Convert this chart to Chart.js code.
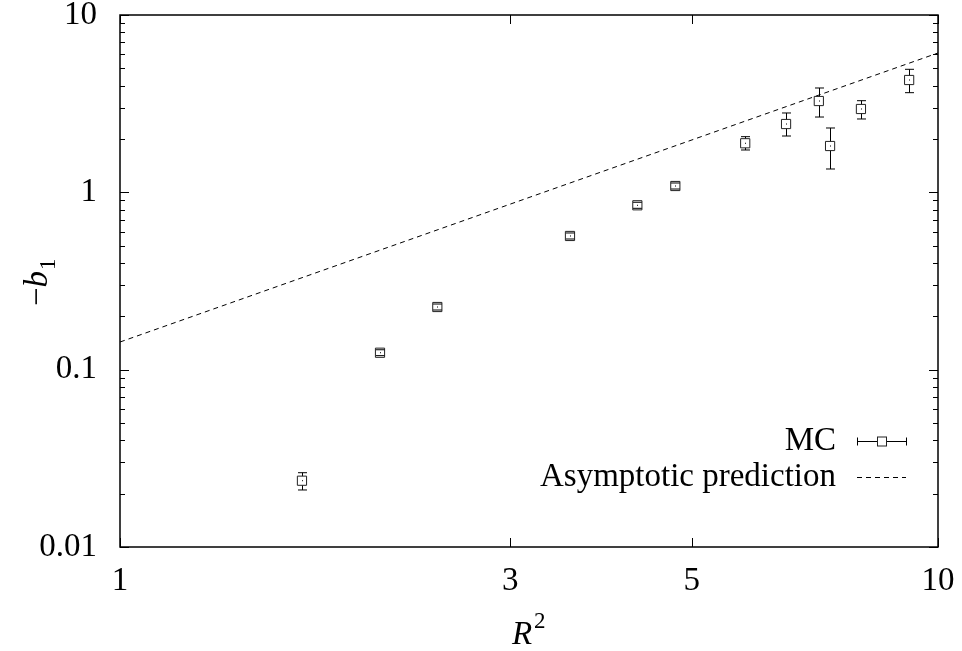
<!DOCTYPE html>
<html>
<head>
<meta charset="utf-8">
<script src="https://cdn.jsdelivr.net/npm/chart.js@4/dist/chart.umd.min.js"></script>
<style>
  html, body { margin: 0; padding: 0; background: #fff; }
</style>
</head>
<body>
<canvas id="chart" width="962" height="651"></canvas>
<script>
// MC data: R^2 vs -b1 with error bars
const rSquared = [1.669, 2.079, 2.443, 3.549, 4.290, 4.774, 5.812, 6.52, 7.15, 7.38, 8.05, 9.22];
const minusB1 = [0.02365, 0.1246, 0.2256, 0.5674, 0.8452, 1.0856, 1.891, 2.428, 3.273, 1.825, 2.951, 4.30];
const errLow = [0.02097, 0.1200, 0.2170, 0.5455, 0.8125, 1.044, 1.733, 2.078, 2.659, 1.354, 2.592, 3.647];
const errHigh = [0.02624, 0.1295, 0.2345, 0.590, 0.879, 1.129, 2.06, 2.802, 3.876, 2.306, 3.287, 4.94];

// asymptotic prediction (straight line on log-log)
const asymX = [1, 10];
const asymY = [0.1432, 6.107];

const xTicks = [1, 3, 5, 10];
const yTicks = [0.01, 0.1, 1, 10];

const FONT = 'Liberation Serif';
const FS = 33;

const framePlugin = {
    id: 'frame',
    beforeDatasetsDraw(chart) {
        const ctx = chart.ctx;
        const xs = chart.scales.x;
        const ys = chart.scales.y;
        ctx.save();
        ctx.strokeStyle = '#000';
        ctx.lineWidth = 1;

        // error bars for MC points (not drawn through the box)
        const h = 4.6;
        const cap = 4.5;
        for (let i = 0; i < rSquared.length; i++) {
            const px = Math.round(xs.getPixelForValue(rSquared[i])) + 0.5;
            const py = ys.getPixelForValue(minusB1[i]);
            const yHi = ys.getPixelForValue(errHigh[i]);
            const yLo = ys.getPixelForValue(errLow[i]);
            ctx.beginPath();
            if (yHi < py - h) { ctx.moveTo(px, yHi); ctx.lineTo(px, py - h); }
            if (yLo > py + h) { ctx.moveTo(px, py + h); ctx.lineTo(px, yLo); }
            ctx.moveTo(px - cap, yHi); ctx.lineTo(px + cap, yHi);
            ctx.moveTo(px - cap, yLo); ctx.lineTo(px + cap, yLo);
            ctx.stroke();
            ctx.fillStyle = '#000';
            ctx.fillRect(px - 0.5, py - 0.5, 1, 1);
        }
        ctx.restore();
    },
    afterDraw(chart) {
        const ctx = chart.ctx;
        const a = chart.chartArea;
        const xs = chart.scales.x;
        const ys = chart.scales.y;
        ctx.save();
        ctx.strokeStyle = '#000';
        ctx.lineWidth = 1;

        // tick marks, inside, mirrored
        ctx.beginPath();
        for (let d = 0.01; d < 10; d *= 10) {
            for (let k = 1; k <= 10; k++) {
                const y = Math.round(ys.getPixelForValue(d * k)) + 0.5;
                const len = (k === 1 || k === 10) ? 9 : 5;
                ctx.moveTo(a.left, y); ctx.lineTo(a.left + len, y);
                ctx.moveTo(a.right, y); ctx.lineTo(a.right - len, y);
            }
        }
        xTicks.forEach(v => {
            const x = Math.round(xs.getPixelForValue(v)) + 0.5;
            ctx.moveTo(x, a.bottom); ctx.lineTo(x, a.bottom - 9);
            ctx.moveTo(x, a.top); ctx.lineTo(x, a.top + 9);
        });
        ctx.stroke();

        // frame
        ctx.lineWidth = 1.5;
        ctx.strokeRect(a.left, a.top, a.right - a.left, a.bottom - a.top);

        // legend
        ctx.lineWidth = 1;
        ctx.fillStyle = '#000';
        ctx.font = FS + 'px "' + FONT + '"';
        ctx.textAlign = 'right';
        ctx.textBaseline = 'middle';
        const ly1 = 441.5, ly2 = 477.5;
        ctx.fillText('MC', 836, ly1);
        ctx.fillText('Asymptotic prediction', 836, ly2);
        ctx.beginPath();
        ctx.moveTo(857.5, ly1); ctx.lineTo(877, ly1);
        ctx.moveTo(886, ly1); ctx.lineTo(906.5, ly1);
        ctx.moveTo(857.5, ly1 - 4); ctx.lineTo(857.5, ly1 + 4);
        ctx.moveTo(906.5, ly1 - 4); ctx.lineTo(906.5, ly1 + 4);
        ctx.stroke();
        ctx.strokeStyle = '#222';
        ctx.strokeRect(877.5, ly1 - 4.5, 9, 9);
        ctx.strokeStyle = '#000';
        ctx.setLineDash([5, 4]);
        ctx.beginPath();
        ctx.moveTo(857, ly2); ctx.lineTo(906, ly2);
        ctx.stroke();
        ctx.setLineDash([]);

        // axis titles
        ctx.textAlign = 'left';
        ctx.textBaseline = 'alphabetic';
        ctx.font = 'italic ' + FS + 'px "' + FONT + '"';
        ctx.fillText('R', 512, 644);
        ctx.font = '23px "' + FONT + '"';
        ctx.fillText('2', 534, 628);

        ctx.translate(47, 306);
        ctx.rotate(-Math.PI / 2);
        ctx.font = FS + 'px "' + FONT + '"';
        ctx.fillText('\u2212', 0, 0);
        const mw = ctx.measureText('\u2212').width;
        ctx.font = 'italic ' + FS + 'px "' + FONT + '"';
        ctx.fillText('b', mw, 0);
        const bw = ctx.measureText('b').width;
        ctx.font = '23px "' + FONT + '"';
        ctx.fillText('1', mw + bw + 1, 8);
        ctx.restore();
    }
};

new Chart(document.getElementById('chart'), {
    type: 'scatter',
    data: {
        datasets: [
            {
                label: 'MC',
                data: rSquared.map((x, i) => ({ x: x, y: minusB1[i] })),
                pointStyle: 'rect',
                pointRadius: 6.5,
                borderWidth: 1,
                borderColor: '#222',
                backgroundColor: 'rgba(0,0,0,0)',
                showLine: false
            },
            {
                label: 'Asymptotic prediction',
                data: asymX.map((x, i) => ({ x: x, y: asymY[i] })),
                showLine: true,
                borderColor: '#000',
                borderWidth: 1,
                borderDash: [5, 4],
                pointRadius: 0,
                fill: false
            }
        ]
    },
    options: {
        responsive: false,
        animation: false,
        devicePixelRatio: 1,
        layout: { padding: { top: 15, right: 24, left: 0, bottom: 0 } },
        plugins: {
            legend: { display: false },
            tooltip: { enabled: false }
        },
        scales: {
            x: {
                type: 'logarithmic',
                min: 1,
                max: 10,
                afterBuildTicks: s => { s.ticks = xTicks.map(v => ({ value: v })); },
                afterFit: s => { s.height = 104; s.paddingLeft = 0; s.paddingRight = 0; },
                grid: { display: false, drawTicks: false },
                border: { display: false },
                ticks: {
                    callback: v => String(v),
                    font: { family: FONT, size: FS },
                    color: '#000',
                    padding: 15,
                    maxRotation: 0,
                    autoSkip: false
                }
            },
            y: {
                type: 'logarithmic',
                min: 0.01,
                max: 10,
                afterBuildTicks: s => { s.ticks = yTicks.map(v => ({ value: v })); },
                afterFit: s => { s.width = 120; s.paddingTop = 0; s.paddingBottom = 0; },
                grid: { display: false, drawTicks: false },
                border: { display: false },
                ticks: {
                    callback: v => String(v),
                    font: { family: FONT, size: FS },
                    color: '#000',
                    padding: 23,
                    autoSkip: false
                }
            }
        }
    },
    plugins: [framePlugin]
});
</script>
</body>
</html>
